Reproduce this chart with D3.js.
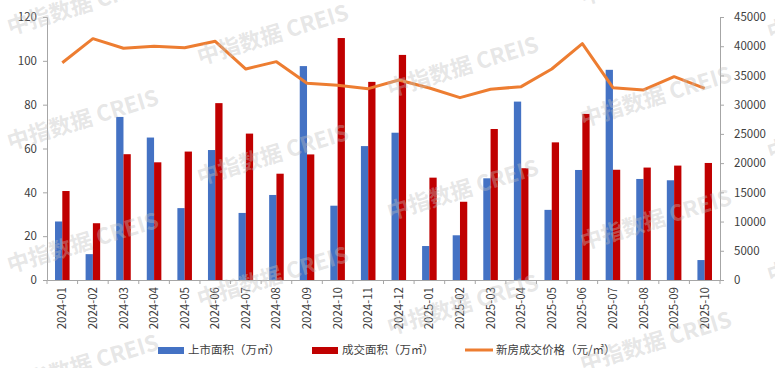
<!DOCTYPE html>
<html>
<head>
<meta charset="utf-8">
<script src="https://cdn.jsdelivr.net/npm/d3@7"></script>
<style>
  body { margin: 0; background: #fff; }
  svg { display: block; }
</style>
</head>
<body>
<div id="chart"></div>
<script>
// months on the x axis
const months = [
  "2024-01", "2024-02", "2024-03", "2024-04", "2024-05", "2024-06",
  "2024-07", "2024-08", "2024-09", "2024-10", "2024-11", "2024-12",
  "2025-01", "2025-02", "2025-03", "2025-04", "2025-05", "2025-06",
  "2025-07", "2025-08", "2025-09", "2025-10"
];
// 上市面积 (万㎡)
const supplyArea = [26.7, 11.8, 74.4, 65.0, 32.8, 59.3, 30.6, 38.8, 97.6, 33.9, 61.1, 67.2,
  15.5, 20.4, 46.4, 81.4, 32.0, 50.2, 95.9, 46.1, 45.5, 9.1];
// 成交面积 (万㎡)
const dealArea = [40.6, 25.9, 57.4, 53.7, 58.6, 80.7, 66.8, 48.5, 57.3, 110.4, 90.4, 102.7,
  46.7, 35.7, 68.9, 51.0, 62.8, 75.8, 50.3, 51.3, 52.2, 53.4];
// 新房成交价格 (元/㎡)
const price = [37180, 41290, 39650, 39990, 39750, 40840, 36100, 37360, 33650, 33310, 32740, 34220,
  32850, 31200, 32630, 33080, 36100, 40440, 32910, 32510, 34790, 32800];

const leftTicks = [0, 20, 40, 60, 80, 100, 120];
const rightTicks = [0, 5000, 10000, 15000, 20000, 25000, 30000, 35000, 40000, 45000];

const width = 775, height = 368;
const margin = { top: 17, right: 55, bottom: 88, left: 47 };
const font = "'Noto Sans CJK SC', 'Noto Sans', sans-serif";
const axisColor = "#a6a6a6";
const textColor = "#404040";

const svg = d3.select("#chart").append("svg")
  .attr("width", width)
  .attr("height", height)
  .style("font-family", font);

const x0 = d3.scaleBand()
  .domain(months)
  .range([margin.left, width - margin.right]);

const x1 = d3.scaleBand()
  .domain(["supply", "deal"])
  .range([0, x0.bandwidth()])
  .paddingInner(0)
  .paddingOuter(1.1);

const yLeft = d3.scaleLinear().domain([0, 120]).range([height - margin.bottom, margin.top]);
const yRight = d3.scaleLinear().domain([0, 45000]).range([height - margin.bottom, margin.top]);

// bars
const groups = svg.append("g").selectAll("g")
  .data(months)
  .join("g")
  .attr("transform", (d) => "translate(" + x0(d) + ",0)");

groups.append("rect")
  .attr("x", x1("supply"))
  .attr("width", x1.bandwidth())
  .attr("y", (d, i) => yLeft(supplyArea[i]))
  .attr("height", (d, i) => yLeft(0) - yLeft(supplyArea[i]))
  .attr("fill", "#4472C4");

groups.append("rect")
  .attr("x", x1("deal"))
  .attr("width", x1.bandwidth())
  .attr("y", (d, i) => yLeft(dealArea[i]))
  .attr("height", (d, i) => yLeft(0) - yLeft(dealArea[i]))
  .attr("fill", "#C00000");

// price line
const line = d3.line()
  .x((d, i) => x0(months[i]) + x0.bandwidth() / 2)
  .y((d) => yRight(d));

svg.append("path")
  .datum(price)
  .attr("d", line)
  .attr("fill", "none")
  .attr("stroke", "#ED7D31")
  .attr("stroke-width", 3)
  .attr("stroke-linejoin", "round");

// axes
const leftAxis = svg.append("g")
  .attr("transform", "translate(" + margin.left + ",0)")
  .call(d3.axisLeft(yLeft).tickValues(leftTicks).tickSize(4).tickPadding(6));

const rightAxis = svg.append("g")
  .attr("transform", "translate(" + (width - margin.right) + ",0)")
  .call(d3.axisRight(yRight).tickValues(rightTicks).tickFormat(d3.format("d")).tickSize(4).tickPadding(10));

const bottomAxis = svg.append("g")
  .attr("transform", "translate(0," + yLeft(0) + ")")
  .call(d3.axisBottom(x0).tickSize(0));

// tick marks between categories
svg.append("g").selectAll("line")
  .data(months.concat(["end"]))
  .join("line")
  .attr("x1", (d, i) => margin.left + i * x0.step())
  .attr("x2", (d, i) => margin.left + i * x0.step())
  .attr("y1", yLeft(0))
  .attr("y2", yLeft(0) + 4)
  .attr("stroke", axisColor);

[leftAxis, rightAxis, bottomAxis].forEach((ax) => {
  ax.select(".domain").attr("stroke", axisColor);
  ax.selectAll(".tick line").attr("stroke", axisColor);
  ax.selectAll("text")
    .attr("fill", textColor)
    .style("font-size", "11.5px")
    .style("font-family", font);
});

bottomAxis.selectAll("text")
  .attr("transform", "rotate(-90)")
  .attr("text-anchor", "end")
  .attr("x", -7)
  .attr("y", 0)
  .attr("dy", "0.35em");

// legend
const legendItems = [
  { label: "上市面积（万㎡）", color: "#4472C4", type: "rect", x: 158 },
  { label: "成交面积（万㎡）", color: "#C00000", type: "rect", x: 312 },
  { label: "新房成交价格（元/㎡）", color: "#ED7D31", type: "line", x: 465 }
];
const legend = svg.append("g");
legendItems.forEach((item) => {
  const g = legend.append("g").attr("transform", "translate(" + item.x + ",350)");
  if (item.type === "rect") {
    g.append("rect").attr("x", 0).attr("y", -3).attr("width", 26).attr("height", 7).attr("fill", item.color);
  } else {
    g.append("line").attr("x1", 0).attr("x2", 28).attr("y1", 0).attr("y2", 0)
      .attr("stroke", item.color).attr("stroke-width", 3);
  }
  g.append("text")
    .attr("x", item.type === "rect" ? 30 : 31)
    .attr("y", 0)
    .attr("dy", "0.35em")
    .attr("fill", textColor)
    .style("font-size", "11.5px")
    .text(item.label);
});

// watermarks
const marks = [
  [10, 35], [200, 65], [390, 97], [583, 5],
  [10, 150], [200, 185], [390, 220], [583, 127],
  [10, 273], [200, 307], [390, 335], [583, 250],
  [10, 395], [583, 372], [770, 160], [770, 283], [770, 40]
];
svg.append("g").selectAll("text")
  .data(marks)
  .join("text")
  .attr("transform", (d) => "translate(" + d[0] + "," + d[1] + ")rotate(-17)")
  .attr("fill", "#bfbfbf")
  .attr("fill-opacity", 0.4)
  .style("font-size", "22px")
  .style("font-weight", "bold")
  .style("font-family", "'Noto Sans CJK SC', sans-serif")
  .text("中指数据 CREIS");
</script>
</body>
</html>
